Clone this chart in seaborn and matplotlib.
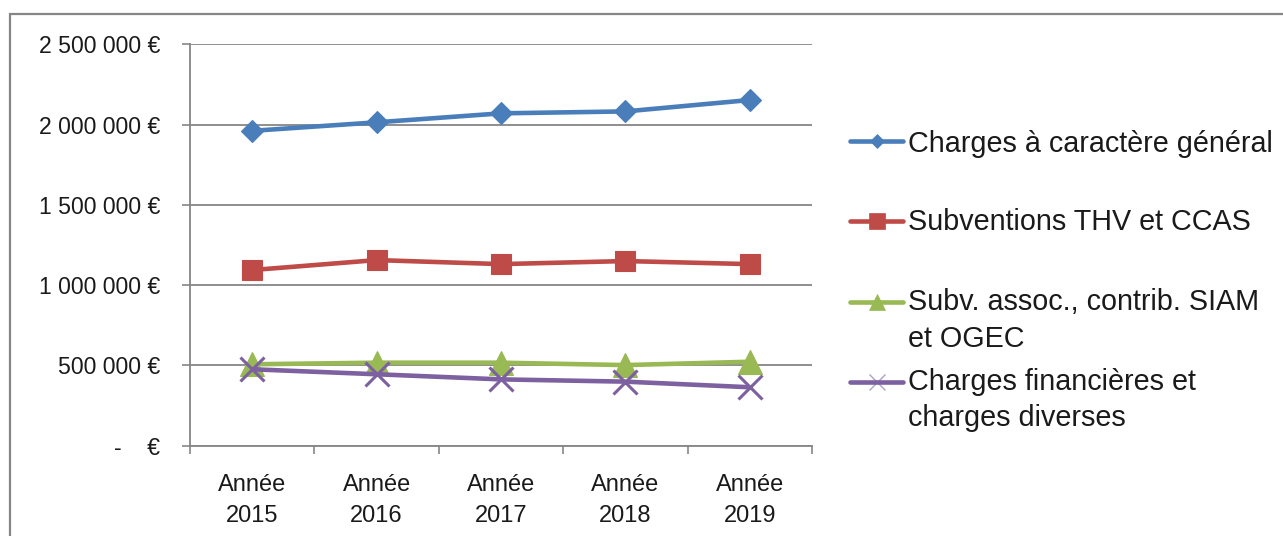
import numpy as np
import pandas as pd
import matplotlib
matplotlib.use("Agg")
import matplotlib.pyplot as plt
import seaborn as sns
from matplotlib.lines import Line2D
from matplotlib.patches import Rectangle
from matplotlib.ticker import FuncFormatter, FixedLocator

# --- data -------------------------------------------------------------
years = ["2015", "2016", "2017", "2018", "2019"]
charges_generales = [1961000, 2014000, 2070000, 2082000, 2153000]
subventions_thv_ccas = [1094000, 1156000, 1131000, 1150000, 1131000]
subv_assoc_siam_ogec = [507000, 517000, 517000, 502000, 523000]
charges_financieres = [476000, 445000, 413000, 399000, 364000]

series_labels = [
    "Charges à caractère général",
    "Subventions THV et CCAS",
    "Subv. assoc., contrib. SIAM\net OGEC",
    "Charges financières et\ncharges diverses",
]
series_values = [charges_generales, subventions_thv_ccas,
                 subv_assoc_siam_ogec, charges_financieres]

# --- styling ----------------------------------------------------------
colors = ["#4A7EBB", "#BE4B48", "#98B954", "#7D60A0"]
markers = ["D", "s", "^", "x"]
marker_sizes = [11.5, 15, 17, 17]
legend_marker_sizes = [7.5, 12, 12, 12]
GRID = "#868686"

sns.set_theme(style="white")
plt.rcParams["font.family"] = ["Liberation Sans", "DejaVu Sans"]

W, H = 1283, 536
fig = plt.figure(figsize=(W / 100, H / 100), dpi=100)
ax = fig.add_axes([190 / W, 1 - 445.7 / H, 622 / W, 401.4 / H])

pos = np.arange(len(years))
frames = []
for label, vals in zip(series_labels, series_values):
    frames.append(pd.DataFrame({"pos": pos, "montant": vals, "poste": label}))
df = pd.concat(frames, ignore_index=True)

for label, c, m, ms in zip(series_labels, colors, markers, marker_sizes):
    sub = df[df["poste"] == label]
    sns.lineplot(data=sub, x="pos", y="montant", ax=ax, color=c,
                 linewidth=3.3, marker=m, markersize=ms,
                 markerfacecolor=c, markeredgecolor=c,
                 markeredgewidth=2.2 if m == "x" else 0.8,
                 legend=False, zorder=3)

# --- axes -------------------------------------------------------------
ax.set_xlim(-0.5, len(years) - 0.5)
ax.set_ylim(0, 2500000)
ax.set_yticks(np.arange(0, 2500001, 500000))


def euro(v, _):
    if v == 0:
        return "-    €"
    return f"{v:,.0f}".replace(",", " ") + " €"


ax.yaxis.set_major_formatter(FuncFormatter(euro))
ax.set_xticks(pos)
ax.set_xticklabels([f"Année\n{y}" for y in years], linespacing=1.5)
ax.xaxis.set_minor_locator(FixedLocator(np.arange(-0.5, len(years), 1.0)))
ax.tick_params(axis="x", which="major", length=0, pad=20.5, labelsize=17,
               colors="#1a1a1a")
ax.tick_params(axis="x", which="minor", length=6, width=1.2, color=GRID,
               direction="out", bottom=True)
ax.tick_params(axis="y", which="major", length=6, width=1.2, color=GRID,
               direction="out", left=True, pad=15.5, labelsize=16.6,
               labelcolor="#1a1a1a")
ax.grid(axis="y", color=GRID, linewidth=1.3)
ax.grid(axis="x", visible=False)
ax.set_axisbelow(True)
ax.set_xlabel("")
ax.set_ylabel("")
for side in ["top", "right"]:
    ax.spines[side].set_visible(False)
for side in ["left", "bottom"]:
    ax.spines[side].set_color(GRID)
    ax.spines[side].set_linewidth(1.3)

# --- legend drawn at fixed positions ----------------------------------
legend_rows = [
    (141, [151.7]),
    (221, [230.5]),
    (302, [310.5, 347]),
    (382, [389.5, 425.5]),
]
for (ly, baselines), label, c, m, ms in zip(legend_rows, series_labels,
                                             colors, markers,
                                             legend_marker_sizes):
    fig.add_artist(Line2D([850 / W, 903 / W], [1 - ly / H, 1 - ly / H],
                          transform=fig.transFigure, color=c, linewidth=3.3,
                          solid_capstyle="round"))
    fig.add_artist(Line2D([876.5 / W], [1 - ly / H], transform=fig.transFigure,
                          color=c, marker=m, markersize=ms,
                          markerfacecolor=c, markeredgecolor=c,
                          markeredgewidth=1.0 if m == "x" else 0.5,
                          linestyle="none",
                          alpha=0.6 if m == "x" else 1.0))
    for line_text, b in zip(label.split("\n"), baselines):
        fig.text(908 / W, 1 - b / H, line_text, fontsize=20.7,
                 color="#1a1a1a", ha="left", va="baseline")

# --- chart frame ------------------------------------------------------
fig.add_artist(Rectangle((10 / W, -0.2), 1.2, 1.2 - 14 / H,
                         transform=fig.transFigure, fill=False,
                         edgecolor=GRID, linewidth=1.6))

fig.savefig("out.png", dpi=100, facecolor="white")
